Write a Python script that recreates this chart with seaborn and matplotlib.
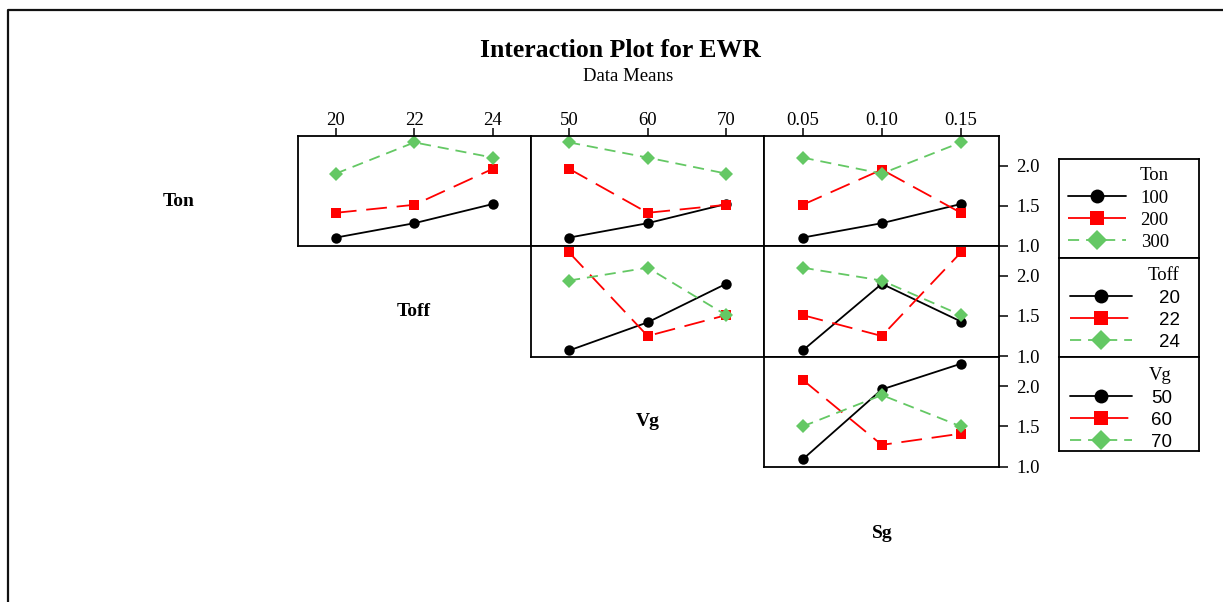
import matplotlib
matplotlib.use("Agg")
import matplotlib.pyplot as plt
from matplotlib.lines import Line2D
import pandas as pd
import seaborn as sns

# ---- data ----
ton_levels = ["100", "200", "300"]
toff_levels = ["20", "22", "24"]
vg_levels = ["50", "60", "70"]
sg_levels = ["0.05", "0.10", "0.15"]

# EWR data means: one row per level of the trace factor, one column per x level
ton_by_toff = [[1.10, 1.28, 1.52], [1.41, 1.51, 1.96], [1.90, 2.29, 2.10]]
ton_by_vg = [[1.10, 1.28, 1.52], [1.96, 1.41, 1.51], [2.29, 2.10, 1.90]]
ton_by_sg = [[1.10, 1.28, 1.52], [1.51, 1.95, 1.41], [2.10, 1.90, 2.29]]
toff_by_vg = [[1.07, 1.42, 1.90], [2.29, 1.25, 1.51], [1.94, 2.10, 1.51]]
toff_by_sg = [[1.07, 1.90, 1.43], [1.51, 1.25, 2.29], [2.10, 1.94, 1.51]]
vg_by_sg = [[1.09, 1.96, 2.28], [2.08, 1.27, 1.41], [1.50, 1.89, 1.50]]

factor_names = ["Ton", "Toff", "Vg", "Sg"]
y_ticks = [1.0, 1.5, 2.0]

# ---- styling ----
W, H = 1223, 602
sns.set_theme(style="white")
plt.rcParams["font.family"] = ["Liberation Serif", "DejaVu Serif"]
plt.rcParams["lines.scale_dashes"] = False
for key in ["text.color", "axes.labelcolor", "xtick.color", "ytick.color",
            "axes.edgecolor"]:
    plt.rcParams[key] = "black"

colors = ["#000000", "#FF0000", "#64C864"]
markers = ["o", "s", "D"]
linestyles = ["-", (0, (15, 7)), (0, (8, 5))]
legend_linestyles = ["-", (0, (17.5, 7)), (0, (8, 5))]

SERIF = "Liberation Serif"
SANS = "Liberation Sans"

fig = plt.figure(figsize=(W / 100, H / 100), dpi=100)


def rect(x0, y0, x1, y1):
    return [x0 / W, 1 - y1 / H, (x1 - x0) / W, (y1 - y0) / H]


col_x = [63.7, 297.7, 531.0, 764.3, 999.3]
row_y = [136.0, 246.0, 356.5, 467.0, 578.0]

all_levels = [ton_levels, toff_levels, vg_levels, sg_levels]
panel_data = {
    (0, 1): ton_by_toff, (0, 2): ton_by_vg, (0, 3): ton_by_sg,
    (1, 2): toff_by_vg, (1, 3): toff_by_sg,
    (2, 3): vg_by_sg,
}


def panel_frame(vals, trace_levels, x_levels):
    rows = []
    for tl, series in zip(trace_levels, vals):
        for xl, v in zip(x_levels, series):
            rows.append({"x": xl, "EWR": v, "trace": tl})
    return pd.DataFrame(rows)


for (i, j), vals in panel_data.items():
    ax = fig.add_axes(rect(col_x[j], row_y[i], col_x[j + 1], row_y[i + 1]))
    df = panel_frame(vals, all_levels[i], all_levels[j])
    sns.pointplot(data=df, x="x", y="EWR", hue="trace",
                  order=all_levels[j], hue_order=all_levels[i],
                  palette=colors, markers=markers, linestyles=linestyles,
                  errorbar=None, dodge=False, legend=False, ax=ax,
                  linewidth=1.3, markersize=7.5, markeredgewidth=0)
    ax.set_xlim(-0.485, 2.485)
    ax.set_ylim(0.995, 2.37)
    ax.set_xlabel("")
    ax.set_ylabel("")
    ax.grid(False)
    for sp in ax.spines.values():
        sp.set_visible(True)
        sp.set_color("black")
        sp.set_linewidth(1.3)
    if i == 0:
        ax.xaxis.tick_top()
        ax.tick_params(axis="x", top=True, bottom=False, labeltop=True,
                       labelbottom=False, direction="out", length=5.5,
                       width=1.1, pad=-0.5, labelsize=13.5, colors="black")
        for t in ax.get_xticklabels():
            t.set_family(SERIF)
    else:
        ax.tick_params(axis="x", top=False, bottom=False,
                       labeltop=False, labelbottom=False)
    if j == 3:
        ax.yaxis.tick_right()
        ax.set_yticks(y_ticks)
        ax.set_yticklabels([f"{v:.1f}" for v in y_ticks], family=SERIF)
        ax.tick_params(axis="y", right=True, left=False, labelright=True,
                       labelleft=False, direction="out", length=6.5,
                       width=1.1, pad=5.5, labelsize=13.5, colors="black")
    else:
        ax.set_yticks([])

# factor names on the diagonal
diag_pos = [(178.7, 201.7), (413.5, 311.0), (648.0, 422.0), (882.0, 533.0)]
for name, (px, py) in zip(factor_names, diag_pos):
    fig.text(px / W, 1 - py / H, name, ha="center", va="center",
             fontsize=14, fontweight="bold", family=SERIF)

# titles
fig.text(620 / W, 1 - 57 / H, "Interaction Plot for EWR", ha="center",
         va="baseline", fontsize=18.5, fontweight="bold", family=SERIF)
fig.text(628 / W, 1 - 81 / H, "Data Means", ha="center", va="baseline",
         fontsize=13.5, family=SERIF)

# legends
leg_boxes = [(1059, 159, 1199, 258), (1059, 258, 1199, 357), (1059, 357, 1199, 451)]
leg_anchor = [(1059, 158), (1061, 258), (1061, 358)]
leg_font = [SERIF, SANS, SANS]
leg_textpad = [0.8, 1.4, 1.0]
leg_hlen = [3.05, 3.3, 3.3]
for k in range(3):
    lax = fig.add_axes(rect(*leg_boxes[k]))
    lax.set_xticks([])
    lax.set_yticks([])
    lax.set_facecolor("white")
    for sp in lax.spines.values():
        sp.set_visible(True)
        sp.set_color("black")
        sp.set_linewidth(1.3)
    handles = [Line2D([], [], color=c, marker=m, linestyle=ls, linewidth=1.3,
                      markersize=10, markeredgewidth=0)
               for c, m, ls in zip(colors, markers, legend_linestyles)]
    ax_x, ax_y = leg_anchor[k]
    lax.legend(handles, all_levels[k], title=factor_names[k],
               loc="upper left", bbox_to_anchor=(ax_x / W, 1 - ax_y / H),
               bbox_transform=fig.transFigure, frameon=False, borderpad=0,
               handlelength=leg_hlen[k], handletextpad=leg_textpad[k],
               labelspacing=0.27, alignment="right",
               prop={"family": leg_font[k], "size": 13.5},
               title_fontproperties={"family": SERIF, "size": 13.5})

# outer frame (left and top edges)
fig.add_artist(Line2D([7.5 / W, 7.5 / W, 1.0], [0.0, 1 - 9.5 / H, 1 - 9.5 / H],
                      color="#111111", linewidth=1.6, transform=fig.transFigure))

fig.savefig("out.png", dpi=100, facecolor="white")
